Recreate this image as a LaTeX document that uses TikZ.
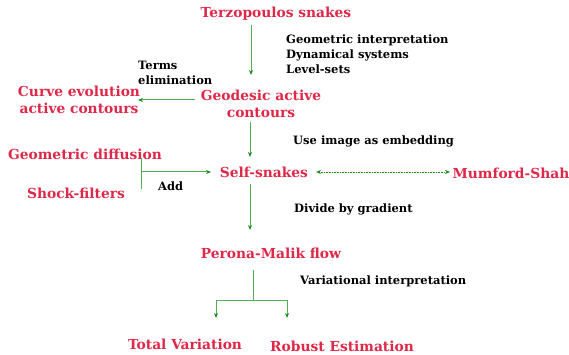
\documentclass[tikz,border=0pt]{standalone}
\usepackage{fontspec}
\setmainfont{DejaVu Serif}
\usetikzlibrary{arrows.meta}
\definecolor{tred}{RGB}{222,40,72}
\definecolor{tgreen}{RGB}{80,175,80}
\definecolor{tgreendark}{RGB}{30,140,30}
\begin{document}
\begin{tikzpicture}[x=1pt,y=-1pt,
  title/.style={text=tred,font=\bfseries\fontsize{13.8}{17}\selectfont,inner sep=0pt,align=center},
  lbl/.style={text=black,font=\bfseries\fontsize{11.5}{15}\selectfont,inner sep=0pt,align=left,anchor=west},
  conn/.style={draw=tgreen,line width=1pt},
  tip/.style={Stealth[length=5pt,width=4pt,color=tgreendark]},
  arr/.style={conn,-{Stealth[length=5pt,width=4pt,color=tgreendark]}},
]
\useasboundingbox (0,0) rectangle (569,355);
\node[title] (terz) at (276,14) {Terzopoulos snakes};
\node[title] (geo) at (261,104) {Geodesic active\\contours};
\node[title] (curve) at (79,100) {Curve evolution\\active contours};
\node[title] (self) at (264,172) {Self-snakes};
\node[title] (mum) at (511,173) {Mumford-Shah};
\node[title] (gdiff) at (85,154) {Geometric diffusion};
\node[title] (shock) at (76,193) {Shock-filters};
\node[title] (pm) at (271,253) {Perona-Malik flow};
\node[title] (tv) at (185,344) {Total Variation};
\node[title] (rob) at (342,346) {Robust Estimation};

\node[lbl] (l1) at (286,54) {Geometric interpretation\\Dynamical systems\\Level-sets};
\node[lbl] (l2) at (138,73) {Terms\\elimination};
\node[lbl] (l3) at (293,141) {Use image as embedding};
\node[lbl] (l4) at (158,186) {Add};
\node[lbl] (l5) at (294,209) {Divide by gradient};
\node[lbl] (l6) at (300,281) {Variational interpretation};

\coordinate (t1) at (251,25);
\coordinate (t2) at (251,75);
\draw[arr] (t1) -- (t2);
\coordinate (g1) at (195,100);
\coordinate (g2) at (138,100);
\draw[arr] (g1) -- (g2);
\coordinate (g3) at (250,122);
\coordinate (g4) at (250,157);
\draw[arr] (g3) -- (g4);
\coordinate (a1) at (141,158);
\coordinate (a2) at (141,189);
\coordinate (a3) at (141,172);
\coordinate (a4) at (211,172);
\draw[conn] (a1) -- (a2);
\draw[arr] (a3) -- (a4);
\coordinate (m1) at (316,172);
\coordinate (m2) at (450,172);
\draw[conn,draw=tgreendark,line width=0.6pt,densely dotted,{Stealth[length=5pt,width=4pt]}-{Stealth[length=5pt,width=4pt]}] (m1) -- (m2);
\coordinate (s1) at (250,184);
\coordinate (s2) at (250,230);
\draw[arr] (s1) -- (s2);
\coordinate (p1) at (253,270);
\coordinate (p2) at (253,300);
\coordinate (p3) at (216,300);
\coordinate (p4) at (287,300);
\coordinate (p5) at (216,318);
\coordinate (p6) at (287,318);
\draw[conn] (p1) -- (p2);
\draw[conn] (p3) -- (p4);
\draw[arr] (p3) -- (p5);
\draw[arr] (p4) -- (p6);
\end{tikzpicture}
\end{document}
